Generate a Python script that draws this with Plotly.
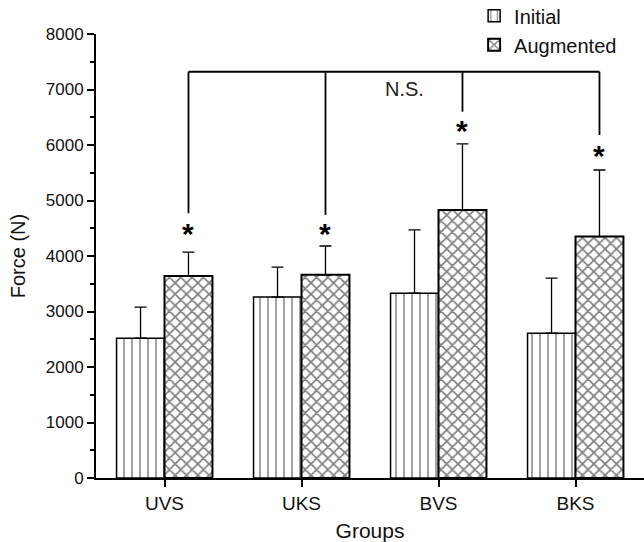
import plotly.graph_objects as go

groups = ["UVS", "UKS", "BVS", "BKS"]
initial = [2520, 3260, 3330, 2610]
initial_err = [560, 540, 1140, 990]
augmented = [3640, 3660, 4830, 4350]
augmented_err = [430, 520, 1190, 1200]
star_y = [4400, 4410, 6260, 5810]
bracket_y = 7320
bracket_bottom = [4770, 4740, 6600, 6180]
ns_label = "N.S."

FONT = "Liberation Sans, Arial, sans-serif"
bar_w = 0.35
aug_off = bar_w / 2

fig = go.Figure()
fig.add_trace(go.Bar(
    name="Initial", x=groups, y=initial,
    marker=dict(color="white", line=dict(color="black", width=1.5),
                pattern=dict(shape="|", fgcolor="black", bgcolor="white", size=8, solidity=0.18)),
    error_y=dict(type="data", array=initial_err, arrayminus=[0]*4, symmetric=False,
                 color="black", thickness=1.3, width=6),
))
fig.add_trace(go.Bar(
    name="Augmented", x=groups, y=augmented,
    marker=dict(color="white", line=dict(color="black", width=2),
                pattern=dict(shape="x", fgcolor="black", bgcolor="white", size=8, solidity=0.38)),
    error_y=dict(type="data", array=augmented_err, arrayminus=[0]*4, symmetric=False,
                 color="black", thickness=1.3, width=6),
))

# significance stars
for i, y in enumerate(star_y):
    fig.add_annotation(x=i + aug_off, y=y, xref="x", yref="y", text="<b>*</b>",
                       showarrow=False, font=dict(size=30, color="black", family=FONT),
                       yanchor="middle")

# bracket
xs = [i + aug_off for i in range(len(groups))]
fig.add_shape(type="line", xref="x", yref="y", x0=xs[0], x1=xs[-1], y0=bracket_y, y1=bracket_y,
              line=dict(color="black", width=1.8))
for i, yb in enumerate(bracket_bottom):
    fig.add_shape(type="line", xref="x", yref="y", x0=xs[i], x1=xs[i], y0=yb, y1=bracket_y,
                  line=dict(color="black", width=1.8))
fig.add_annotation(x=1.5 + aug_off + 0.08, y=bracket_y - 80, xref="x", yref="y", text=ns_label,
                   showarrow=False, yanchor="top", xanchor="center",
                   font=dict(size=20, color="#222", family=FONT))

fig.update_layout(
    width=644, height=542,
    margin=dict(l=96, r=0, t=34, b=64, autoexpand=False),
    plot_bgcolor="white", paper_bgcolor="white",
    barmode="group", bargap=0.3, bargroupgap=0,
    font=dict(family=FONT, color="#111", size=17),
    legend=dict(x=0.69, y=1.085, xanchor="left", yanchor="top",
                font=dict(size=20, family=FONT, color="#111"), bgcolor="rgba(0,0,0,0)",
                tracegroupgap=0, itemwidth=30),
    showlegend=True,
)
fig.update_xaxes(
    range=[-0.5, 3.5], showline=True, linecolor="black", linewidth=2,
    ticks="outside", ticklen=7, tickwidth=2, tickcolor="black",
    minor=dict(ticks="outside", ticklen=4, tickwidth=2, tickcolor="black", dtick=1, tick0=0.5),
    showgrid=False, tickfont=dict(size=19, color="#111"),
    title=dict(text="Groups", font=dict(size=21, color="#111"), standoff=11),
)
fig.update_yaxes(
    range=[0, 8000], showline=True, linecolor="black", linewidth=2,
    ticks="outside", ticklen=7, tickwidth=2, tickcolor="black", dtick=1000,
    minor=dict(ticks="outside", ticklen=4, tickwidth=2, tickcolor="black", dtick=500),
    showgrid=False, zeroline=False, tickfont=dict(size=17, color="#111"),
    title=dict(text="Force (N)", font=dict(size=20, color="#111"), standoff=15),
)

fig.write_html("out.html", config={"displayModeBar": False},
               post_script="document.body.style.margin='0';document.body.style.overflow='hidden';")
